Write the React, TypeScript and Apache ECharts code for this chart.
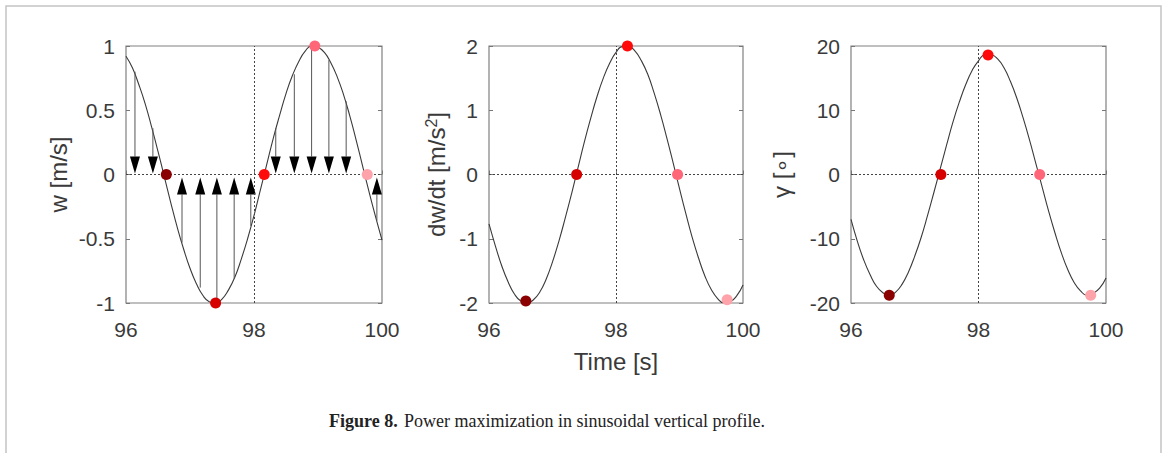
import React, { useEffect, useRef } from "react";
import * as echarts from "echarts";

// ---- data ----
const TIME = [
  96.0, 96.1, 96.2, 96.3, 96.4, 96.5, 96.6, 96.7, 96.8, 96.9,
  97.0, 97.1, 97.2, 97.3, 97.4, 97.5, 97.6, 97.7, 97.8, 97.9,
  98.0, 98.1, 98.2, 98.3, 98.4, 98.5, 98.6, 98.7, 98.8, 98.9,
  99.0, 99.1, 99.2, 99.3, 99.4, 99.5, 99.6, 99.7, 99.8, 99.9, 100.0,
];
const W = [
  0.92, 0.83, 0.70, 0.55, 0.37, 0.18, -0.02, -0.22, -0.41, -0.58,
  -0.73, -0.85, -0.94, -0.99, -1.0, -0.97, -0.9, -0.8, -0.66, -0.5,
  -0.32, -0.12, 0.08, 0.28, 0.46, 0.63, 0.77, 0.88, 0.96, 1.0,
  0.99, 0.95, 0.87, 0.76, 0.62, 0.45, 0.26, 0.06, -0.14, -0.33, -0.51,
];
const DWDT = [
  -0.77, -1.11, -1.42, -1.67, -1.86, -1.97, -2.0, -1.95, -1.83, -1.63,
  -1.36, -1.04, -0.68, -0.3, 0.1, 0.5, 0.87, 1.21, 1.5, 1.73,
  1.9, 1.99, 1.99, 1.92, 1.77, 1.56, 1.27, 0.94, 0.57, 0.18,
  -0.22, -0.61, -0.98, -1.3, -1.58, -1.79, -1.93, -2.0, -1.98, -1.89, -1.72,
];
const GAMMA = [
  -7.0, -10.4, -13.3, -15.6, -17.4, -18.4, -18.8, -18.3, -17.1, -15.2,
  -12.7, -9.8, -6.4, -2.8, 0.9, 4.6, 8.2, 11.3, 14.0, 16.2,
  17.7, 18.6, 18.6, 18.0, 16.6, 14.5, 11.9, 8.8, 5.4, 1.7,
  -2.0, -5.7, -9.1, -12.2, -14.8, -16.8, -18.1, -18.8, -18.5, -17.7, -16.1,
];
const W_MARK_T = [96.63, 97.4, 98.16, 98.95, 99.77];
const W_MARK_V = [0, -1, 0, 1, 0];
const DW_MARK_T = [96.58, 97.38, 98.18, 98.97, 99.75];
const DW_MARK_V = [-1.97, 0, 2, 0, -1.95];
const G_MARK_T = [96.6, 97.41, 98.15, 98.96, 99.76];
const G_MARK_V = [-18.8, 0, 18.6, 0, -18.8];
const MARK_COLORS = ["#8b0000", "#d60000", "#ff0a0a", "#ff6677", "#ffa3aa"];
const ARROW_T = [96.14, 96.42, 96.875, 97.16, 97.42, 97.69, 97.95, 98.34, 98.63, 98.9, 99.17, 99.44, 99.92];
const ARROW_W = [0.8, 0.36, -0.53, -0.88, -1.0, -0.81, -0.4, 0.36, 0.78, 0.99, 0.89, 0.57, -0.36];

const X_MIN = 96, X_MAX = 100, X_STEP = 2;
const Y_RANGES = [
  { min: -1, max: 1, interval: 0.5 },
  { min: -2, max: 2, interval: 1 },
  { min: -20, max: 20, interval: 10 },
];
const Y_NAMES = ["w [m/s]", "dw/dt [m/s{sup|2}]", "γ [∘]"];
const X_NAME = "Time [s]";
const CAPTION_BOLD = "Figure 8.";
const CAPTION_TEXT = "Power maximization in sinusoidal vertical profile.";

const SANS = '"Liberation Sans", Arial, sans-serif';
const SERIF = '"Liberation Serif", "Times New Roman", serif';
const TXT = "#3a3a3a";

export default function App() {
  const ref = useRef<HTMLDivElement>(null);
  useEffect(() => {
    if (!ref.current) return;
    const chart = echarts.init(ref.current, null, { renderer: "svg" });

    const grids = [
      { left: 126, top: 46, width: 256, height: 257 },
      { left: 489, top: 46, width: 254, height: 257 },
      { left: 851, top: 46, width: 255, height: 257 },
    ];
    const yNameGaps = [56, 40, 58];

    const xAxes: any[] = [];
    const yAxes: any[] = [];
    grids.forEach((g, i) => {
      xAxes.push({
        gridIndex: i,
        type: "value",
        min: X_MIN,
        max: X_MAX,
        interval: X_STEP,
        axisLine: { show: false },
        axisTick: { show: true, inside: true, length: 4, lineStyle: { color: "#777" } },
        splitLine: { show: false },
        axisLabel: { margin: 16, fontSize: 21, color: TXT, fontFamily: SANS },
        name: i === 1 ? X_NAME : "",
        nameLocation: "middle",
        nameGap: 46,
        nameTextStyle: { fontSize: 24, color: TXT, fontFamily: SANS },
      });
      const r = Y_RANGES[i];
      yAxes.push({
        gridIndex: i,
        type: "value",
        position: "left",
        min: r.min,
        max: r.max,
        interval: r.interval,
        axisLine: { show: false },
        axisTick: { show: true, inside: true, length: 4, lineStyle: { color: "#777" } },
        splitLine: { show: false },
        axisLabel: { margin: 11, fontSize: 21, color: TXT, fontFamily: SANS },
        name: Y_NAMES[i],
        nameLocation: "middle",
        nameGap: yNameGaps[i],
        nameTextStyle: {
          fontSize: 24,
          color: TXT,
          fontFamily: SANS,
          rich: { sup: { fontSize: 16, verticalAlign: "top", color: TXT, fontFamily: SANS, padding: [0, 0, 10, 0] } },
        },
      });
      yAxes.push({
        gridIndex: i,
        type: "value",
        position: "right",
        min: r.min,
        max: r.max,
        interval: r.interval,
        axisLine: { show: false },
        axisTick: { show: true, inside: true, length: 4, lineStyle: { color: "#777" } },
        splitLine: { show: false },
        axisLabel: { show: false },
      });
    });

    const curves = [W, DWDT, GAMMA];
    const markT = [W_MARK_T, DW_MARK_T, G_MARK_T];
    const markV = [W_MARK_V, DW_MARK_V, G_MARK_V];
    const series: any[] = [];
    curves.forEach((c, i) => {
      series.push({
        type: "line",
        xAxisIndex: i,
        yAxisIndex: i * 2,
        data: TIME.map((t, k) => [t, c[k]]),
        showSymbol: false,
        smooth: true,
        lineStyle: { color: "#3a3a3a", width: 1.1 },
        z: 3,
        markLine: {
          silent: true,
          symbol: ["none", "none"],
          label: { show: false },
          lineStyle: { color: "#444", width: 1, type: [2, 2] },
          data: [{ xAxis: 98 }, { yAxis: 0 }],
        },
      });
      series.push({
        type: "scatter",
        xAxisIndex: i,
        yAxisIndex: i * 2,
        clip: false,
        symbolSize: 11,
        z: 5,
        data: markT[i].map((t, k) => ({
          value: [t, markV[i][k]],
          itemStyle: { color: MARK_COLORS[k], opacity: 1 },
        })),
      });
    });
    series.push({
      type: "custom",
      xAxisIndex: 0,
      yAxisIndex: 0,
      z: 4,
      data: ARROW_T.map((t, k) => [t, ARROW_W[k]]),
      renderItem: (params: any, api: any) => {
        const t = api.value(0);
        const v = api.value(1);
        const p0 = api.coord([t, 0]);
        const p1 = api.coord([t, v]);
        const down = v > 0;
        const h = 17, hw = 5;
        const tipY = down ? p0[1] - 1 : p0[1] + 3;
        const baseY = down ? tipY - h : tipY + h;
        return {
          type: "group",
          children: [
            {
              type: "line",
              shape: { x1: p1[0], y1: p1[1], x2: p1[0], y2: baseY },
              style: { stroke: "#555", lineWidth: 1 },
            },
            {
              type: "polygon",
              shape: { points: [[p0[0] - hw, baseY], [p0[0] + hw, baseY], [p0[0], tipY]] },
              style: { fill: "#000" },
            },
          ],
        };
      },
    });

    chart.setOption({
      animation: false,
      backgroundColor: "#fff",
      grid: grids.map((g) => ({ ...g, show: true, borderColor: "#808080", borderWidth: 1.2, backgroundColor: "transparent" })),
      xAxis: xAxes,
      yAxis: yAxes,
      series,
      graphic: [
        {
          type: "rect",
          shape: { x: 6, y: 6, width: 1155, height: 470 },
          style: { fill: "none", stroke: "#c4c4c4", lineWidth: 1.5 },
          silent: true,
        },
        {
          type: "text",
          x: 329,
          y: 421,
          style: { text: CAPTION_BOLD, fontFamily: SERIF, fontWeight: "bold", fontSize: 18, fill: "#222", verticalAlign: "middle" },
        },
        {
          type: "text",
          x: 404,
          y: 421,
          style: { text: CAPTION_TEXT, fontFamily: SERIF, fontSize: 18, fill: "#222", verticalAlign: "middle" },
        },
      ],
    });
    return () => chart.dispose();
  }, []);
  return <div ref={ref} style={{ position: "absolute", left: 0, top: 0, width: 1174, height: 453 }} />;
}
